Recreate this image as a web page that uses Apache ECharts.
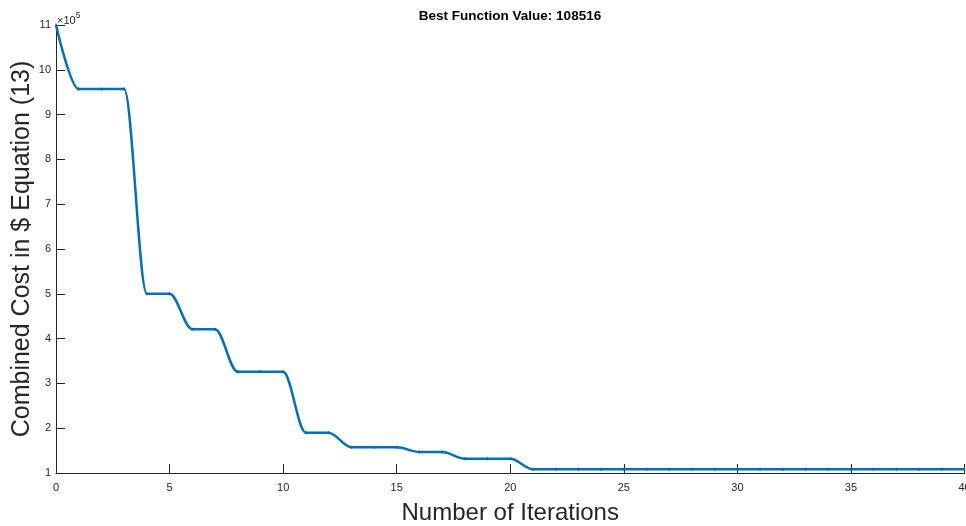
<!DOCTYPE html>
<html>
<head>
<meta charset="utf-8">
<script src="https://cdn.jsdelivr.net/npm/echarts@6/dist/echarts.min.js"></script>
<style>
  html, body { margin: 0; padding: 0; background: #fff; }
  #chart { width: 966px; height: 526px; }
</style>
</head>
<body>
<div id="chart"></div>
<script>
// Best combined cost found at each optimisation iteration
const iterations = Array.from({ length: 41 }, (_, i) => i);
const bestCost = [
  1100000, 957000, 957000, 957000, 500000, 500000, 421000, 421000,
  326000, 326000, 326000, 190000, 190000, 157500, 157500, 157500,
  147000, 147000, 132000, 132000, 132000,
  108516, 108516, 108516, 108516, 108516, 108516, 108516, 108516, 108516, 108516,
  108516, 108516, 108516, 108516, 108516, 108516, 108516, 108516, 108516, 108516
];
const bestValue = 108516;
const titleText = 'Best Function Value: ' + bestValue;
const xTitle = 'Number of Iterations';
const yTitle = 'Combined Cost in $ Equation (13)';

const FONT = '"Liberation Sans", Arial, Helvetica, sans-serif';
const INK = '#262626';

const chart = echarts.init(document.getElementById('chart'), null, { renderer: 'canvas' });

chart.setOption({
  animation: false,
  backgroundColor: '#ffffff',
  grid: { left: 56, right: 1.5, top: 25, bottom: 53, outerBoundsMode: 'none', containLabel: false },
  xAxis: {
    type: 'value',
    min: 0,
    max: 40,
    interval: 5,
    name: xTitle,
    nameLocation: 'middle',
    nameGap: 28,
    nameTextStyle: { fontFamily: FONT, fontSize: 24, color: INK },
    axisLine: { show: true, lineStyle: { color: INK, width: 1 } },
    axisTick: { show: true, inside: true, length: 9, lineStyle: { color: INK } },
    axisLabel: { fontFamily: FONT, fontSize: 11, color: INK, margin: 9 },
    splitLine: { show: false }
  },
  yAxis: {
    type: 'value',
    min: 100000,
    max: 1100000,
    interval: 100000,
    name: yTitle,
    nameLocation: 'middle',
    nameMoveOverlap: false,
    nameGap: 21,
    nameRotate: 90,
    nameTextStyle: { fontFamily: FONT, fontSize: 25, color: INK },
    axisLine: { show: true, onZero: false, lineStyle: { color: INK, width: 1 } },
    axisTick: { show: true, inside: true, length: 9, lineStyle: { color: INK } },
    axisLabel: {
      fontFamily: FONT, fontSize: 11, color: INK, margin: 5,
      formatter: v => String(Math.round(v / 100000))
    },
    splitLine: { show: false }
  },
  graphic: [
    {
      // plot title, centred over the axes
      type: 'text',
      x: 510,
      y: 16,
      style: {
        text: titleText,
        fontFamily: FONT, fontSize: 13.5, fontWeight: 'bold', fill: '#000',
        align: 'center', verticalAlign: 'middle'
      }
    },
    {
      // exponent multiplier for the y axis
      type: 'text',
      left: 57,
      top: 11,
      style: {
        text: '{m|×10}{s|5}',
        rich: {
          m: { fontFamily: FONT, fontSize: 11, fill: INK, verticalAlign: 'bottom', lineHeight: 15 },
          s: { fontFamily: FONT, fontSize: 8.5, fill: INK, verticalAlign: 'top', lineHeight: 15, padding: [0, 0, 6, 0] }
        }
      }
    }
  ],
  series: [{
    type: 'line',
    data: iterations.map((x, i) => [x, bestCost[i]]),
    smooth: 0.35,
    smoothMonotone: 'x',
    showSymbol: true,
    symbol: 'rect',
    symbolSize: [1.2, 3],
    itemStyle: { color: '#0a5c9c' },
    lineStyle: { color: '#0072BD', width: 2.5 },
    clip: false
  }]
});
</script>
</body>
</html>
